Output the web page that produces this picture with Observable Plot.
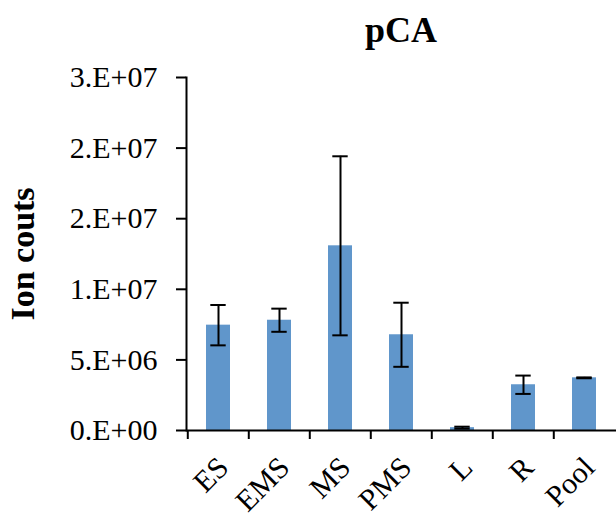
<!DOCTYPE html>
<html>
<head>
<meta charset="utf-8">
<script src="https://cdn.jsdelivr.net/npm/d3@7"></script>
<script src="https://cdn.jsdelivr.net/npm/@observablehq/plot@0.6"></script>
<style>
  html, body { margin: 0; padding: 0; background: white; }
  #wrap { position: relative; width: 616px; height: 518px; }
  #title { position: absolute; left: 186px; width: 430px; top: 12px; text-align: center;
           font-family: "Liberation Serif", serif; font-weight: bold; font-size: 36px; line-height: 36px; }
</style>
</head>
<body>
<div id="wrap">
  <div id="chart"></div>
  <div id="title">pCA</div>
</div>
<script>
const categories = ["ES", "EMS", "MS", "PMS", "L", "R", "Pool"];
const means = [7.46e6, 7.81e6, 13.08e6, 6.78e6, 0.2e6, 3.24e6, 3.73e6];
const errors = [1.43e6, 0.82e6, 6.34e6, 2.27e6, 0.07e6, 0.65e6, 0.03e6];
const yTicks = [0, 5e6, 1e7, 1.5e7, 2e7, 2.5e7];
const yTickLabels = ["0.E+00", "5.E+06", "1.E+07", "2.E+07", "2.E+07", "3.E+07"];
const yLabel = "Ion couts";

const data = categories.map((c, i) => ({cat: c, mean: means[i], err: errors[i]}));

const W = 616, ML = 186, MR = 0;
const step = (W - ML - MR) / categories.length;

const chart = Plot.plot({
  width: W, height: 518,
  marginLeft: ML, marginRight: MR, marginTop: 77, marginBottom: 88,
  style: {fontFamily: "'Liberation Serif', serif", fontSize: "30px", color: "black", background: "white", overflow: "visible"},
  x: {domain: categories, paddingInner: 0.6, paddingOuter: 0.3, label: null},
  y: {domain: [0, 2.5e7], label: null},
  marks: [
    Plot.barY(data, {x: "cat", y: "mean", fill: "#6096CB"}),
    Plot.ruleX(data, {x: "cat", y1: d => d.mean - d.err, y2: d => d.mean + d.err, stroke: "black", strokeWidth: 2}),
    Plot.tickY(data, {x: "cat", y: d => d.mean - d.err, inset: 4.3, stroke: "black", strokeWidth: 2}),
    Plot.tickY(data, {x: "cat", y: d => d.mean + d.err, inset: 4.3, stroke: "black", strokeWidth: 2}),
    Plot.axisY({ticks: yTicks, tickFormat: d => yTickLabels[yTicks.indexOf(d)], tickSize: 10, tickPadding: 19, strokeWidth: 2, label: null}),
    Plot.axisX({tickSize: 9, dx: -step / 2, tickFormat: () => "", strokeWidth: 2, label: null}),
    Plot.axisX({tickSize: 0, tickRotate: -45, tickPadding: 32, dx: 5, fontSize: 30, label: null}),
    Plot.frame({anchor: "left", strokeWidth: 2}),
    Plot.ruleY([0], {strokeWidth: 2}),
    Plot.text([yLabel], {frameAnchor: "left", dx: -163, rotate: -90, textAnchor: "middle", fontWeight: "bold", fontSize: 34})
  ]
});
document.getElementById("chart").appendChild(chart);
</script>
</body>
</html>
